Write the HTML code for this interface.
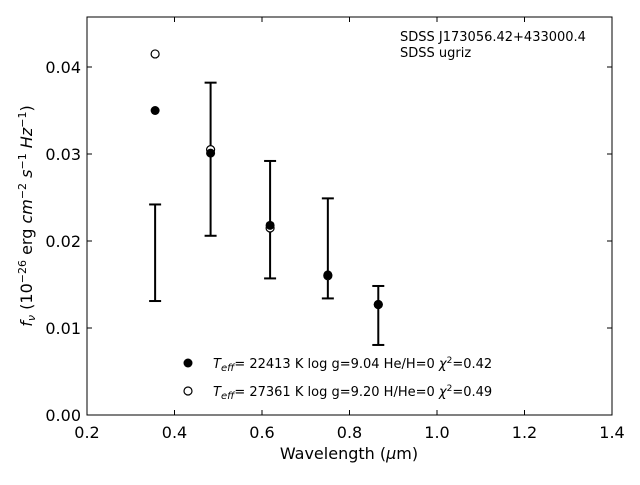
<!DOCTYPE html>
<html><head><meta charset="utf-8"><style>
body{margin:0;background:#fff}
svg text{font-family:"DejaVu Sans","Liberation Sans",sans-serif;}
</style></head><body>
<svg id="c" width="640" height="480" xmlns="http://www.w3.org/2000/svg">
<rect width="640" height="480" fill="#fff"/>
<g id="g"></g>
</svg>
<script>
const bands=[0.3557,0.4825,0.6185,0.7505,0.8658];
const modelA=[0.0350,0.0301,0.0218,0.0161,0.0127];
const modelB=[0.0415,0.0305,0.0215,0.0160,0.0127];
const obs=[0.01865,0.0294,0.02245,0.01915,0.01144];
const err=[0.00555,0.0088,0.00675,0.00575,0.00339];
const xTicks=[0.2,0.4,0.6,0.8,1.0,1.2,1.4];
const yTicks=[0.00,0.01,0.02,0.03,0.04];
const X0=87,X1=612,Y0=415,Y1=17;
const xs=v=>X0+(v-0.2)/1.2*(X1-X0);
const ys=v=>Y0-v*8700;
const NS="http://www.w3.org/2000/svg";
const g=document.getElementById('g');
function mk(t,a,txt){const e=document.createElementNS(NS,t);for(const k in a)e.setAttribute(k,a[k]);if(txt!=null)e.textContent=txt;g.appendChild(e);return e;}
let e;
e=mk('rect',{x:X0,y:Y1,width:X1-X0,height:Y0-Y1,fill:'none',stroke:'#000','stroke-width':1});


xTicks.forEach(t=>{const x=xs(t);
 e=mk('line',{x1:x,x2:x,y1:Y0,y2:Y0-5,stroke:'#000'});
 
 
 e=mk('line',{x1:x,x2:x,y1:Y1,y2:Y1+5,stroke:'#000'});
 
 
 e=mk('text',{x:x,y:Y0+23,'text-anchor':'middle','font-size':16},t.toFixed(1));
 
 
});
yTicks.forEach(t=>{const y=ys(t);
 e=mk('line',{x1:X0,x2:X0+5,y1:y,y2:y,stroke:'#000'});
 
 
 e=mk('line',{x1:X1,x2:X1-5,y1:y,y2:y,stroke:'#000'});
 
 
 e=mk('text',{x:X0-6,y:y+6,'text-anchor':'end','font-size':16},t.toFixed(2));
 
 
});
bands.forEach((b,i)=>{const x=xs(b),yt=ys(obs[i]+err[i]),yb=ys(obs[i]-err[i]);
 e=mk('line',{x1:x,x2:x,y1:yt,y2:yb,stroke:'#000','stroke-width':2});
 
 
 e=mk('line',{x1:x-6,x2:x+6,y1:yt,y2:yt,stroke:'#000','stroke-width':2});
 
 
 e=mk('line',{x1:x-6,x2:x+6,y1:yb,y2:yb,stroke:'#000','stroke-width':2});
 
 
});
bands.forEach((b,i)=>{
 e=mk('circle',{cx:xs(b),cy:ys(modelB[i]),r:4,fill:'#fff',stroke:'#000','stroke-width':1.2});
 
 
 e=mk('circle',{cx:xs(b),cy:ys(modelA[i]),r:4.5,fill:'#000'});
 
 
});
e=mk('text',{x:400,y:41,'font-size':13},'SDSS J173056.42+433000.4');


e=mk('text',{x:400,y:57,'font-size':13},'SDSS ugriz');


e=mk('circle',{cx:188,cy:363,r:4.5,fill:'#000'});


e=mk('circle',{cx:188,cy:391,r:4,fill:'#fff',stroke:'#000','stroke-width':1.2});


function legend(y,txt,name){
 const t=document.createElementNS(NS,'text');
 t.setAttribute('x',213);t.setAttribute('y',y);t.setAttribute('font-size',13);
 t.innerHTML='<tspan font-style="italic">T</tspan><tspan font-style="italic" font-size="10" dy="3">eff</tspan><tspan dy="-3">'+txt+'</tspan>';
 g.appendChild(t);
 
 
}
legend(368,'= 22413 K  log g=9.04  He/H=0  <tspan font-style="italic">χ</tspan><tspan font-size="9" dy="-5">2</tspan><tspan dy="5">=0.42</tspan>','legend-entry-a');
legend(396,'= 27361 K  log g=9.20  H/He=0  <tspan font-style="italic">χ</tspan><tspan font-size="9" dy="-5">2</tspan><tspan dy="5">=0.49</tspan>','legend-entry-b');
e=mk('text',{x:349,y:459,'text-anchor':'middle','font-size':16},'');
e.innerHTML='Wavelength (<tspan font-style="italic">μ</tspan>m)';


e=mk('text',{x:0,y:0,'text-anchor':'middle','font-size':16,transform:'translate(32,216) rotate(-90)'},'');
e.innerHTML='<tspan font-style="italic">f</tspan><tspan font-style="italic" font-size="11" dy="3">ν</tspan><tspan dy="-3"> (10</tspan><tspan font-size="11" dy="-6">−26</tspan><tspan dy="6"> erg </tspan><tspan font-style="italic">cm</tspan><tspan font-size="11" dy="-6">−2</tspan><tspan dy="6"> </tspan><tspan font-style="italic">s</tspan><tspan font-size="11" dy="-6">−1</tspan><tspan dy="6"> </tspan><tspan font-style="italic">Hz</tspan><tspan font-size="11" dy="-6">−1</tspan><tspan dy="6">)</tspan>';


</script>
</body></html>
